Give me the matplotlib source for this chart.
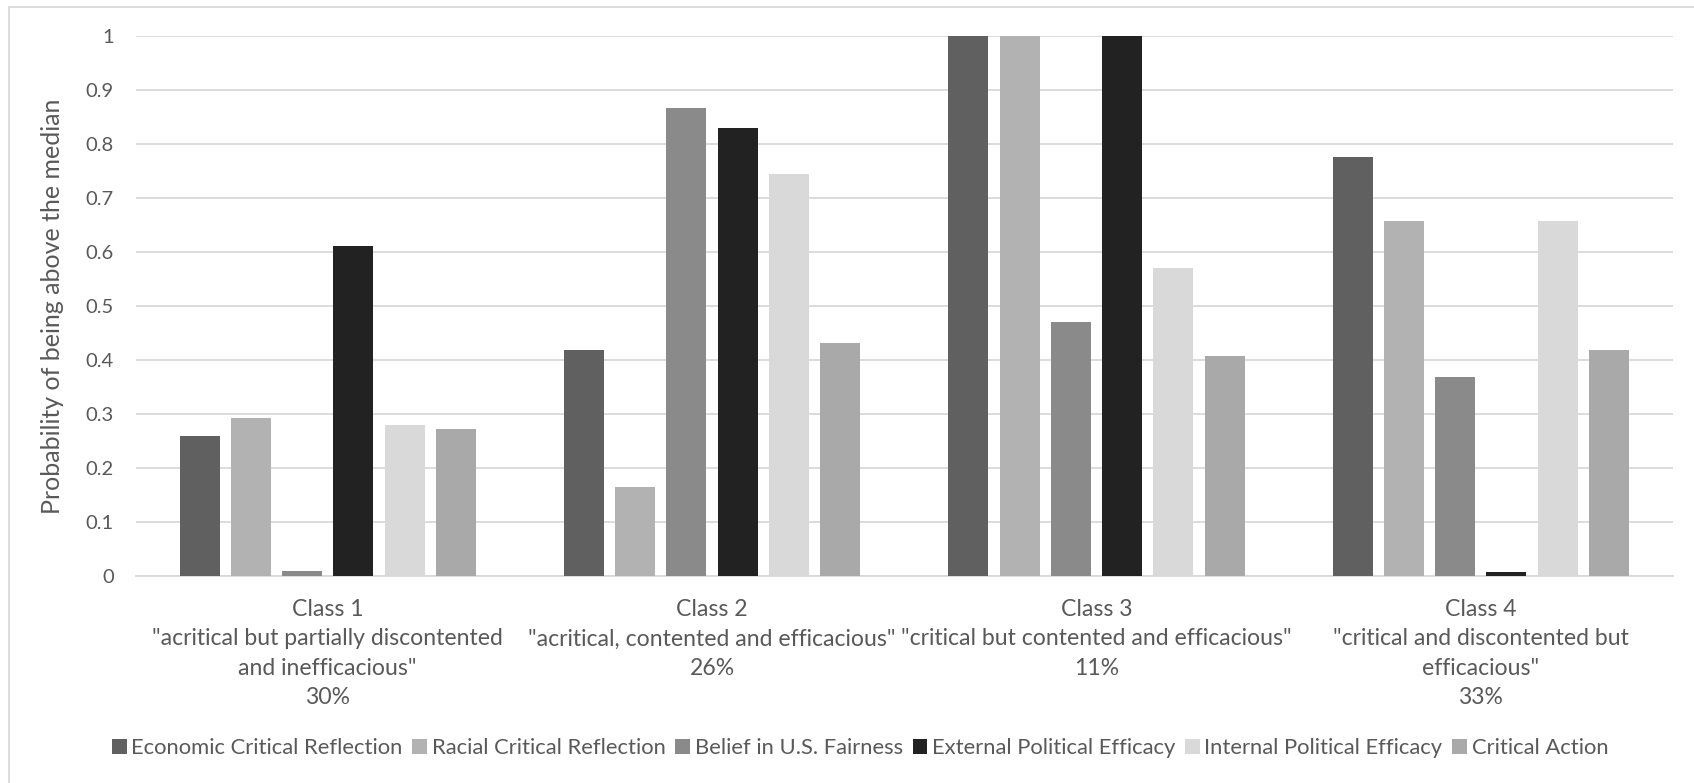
import matplotlib
matplotlib.use("Agg")
import matplotlib.pyplot as plt
from matplotlib.patches import Patch, Rectangle
import numpy as np

# Latent class categories (x axis)
categories = [
    'Class 1\n"acritical but partially discontented\nand inefficacious"\n30%',
    'Class 2\n"acritical, contented and efficacious"\n26%',
    'Class 3\n"critical but contented and efficacious"\n11%',
    'Class 4\n"critical and discontented but\nefficacious"\n33%',
]

series_names = [
    "Economic Critical Reflection",
    "Racial Critical Reflection",
    "Belief in U.S. Fairness",
    "External Political Efficacy",
    "Internal Political Efficacy",
    "Critical Action",
]

# Probability of being above the median, per series, per class
economic_critical_reflection = [0.26, 0.418, 1.0, 0.776]
racial_critical_reflection = [0.292, 0.165, 1.0, 0.657]
belief_us_fairness = [0.009, 0.867, 0.47, 0.368]
external_political_efficacy = [0.612, 0.829, 1.0, 0.008]
internal_political_efficacy = [0.28, 0.745, 0.57, 0.658]
critical_action = [0.273, 0.431, 0.407, 0.418]

series_values = [
    economic_critical_reflection,
    racial_critical_reflection,
    belief_us_fairness,
    external_political_efficacy,
    internal_political_efficacy,
    critical_action,
]

colors = ["#606060", "#b2b2b2", "#8a8a8a", "#222222", "#d9d9d9", "#a9a9a9"]

y_ticks = [0, 0.1, 0.2, 0.3, 0.4, 0.5, 0.6, 0.7, 0.8, 0.9, 1]
y_tick_labels = ["0", "0.1", "0.2", "0.3", "0.4", "0.5", "0.6", "0.7", "0.8", "0.9", "1"]

TEXT = "#595959"
GRID = "#d9d9d9"
FONT = "Lato"
FS_TICK = 14.5
FS_CAT = 16.6
FS_LEG = 15.8
FS_YLAB = 18

plt.rcParams["font.family"] = [FONT, "DejaVu Sans"]

W, H = 1694, 783
fig = plt.figure(figsize=(W / 100, H / 100), dpi=100)

# Chart frame (left and top edges visible)
fig.add_artist(Rectangle((9 / W, -0.1), 1.2, 1 - 7 / H + 0.1,
                         transform=fig.transFigure, fill=False,
                         edgecolor=GRID, linewidth=1.3))

left, right = 135.5 / W, 1673 / W
bottom, top = 1 - 576 / H, 1 - 36 / H
ax = fig.add_axes([left, bottom, right - left, top - bottom])

x = np.arange(len(categories))
step = 0.1333
width = 0.104
n = len(series_values)
for i, (vals, col, name) in enumerate(zip(series_values, colors, series_names)):
    ax.bar(x + (i - (n - 1) / 2) * step, vals, width=width, color=col,
           linewidth=0, label=name, zorder=3)

ax.set_xlim(-0.5, len(categories) - 0.5)
ax.set_ylim(0, 1)
ax.set_yticks(y_ticks)
ax.set_yticklabels(y_tick_labels)
ax.set_xticks(x)
ax.set_xticklabels(categories, linespacing=1.5)

ax.grid(axis="y", color=GRID, linewidth=1.3, zorder=0)
ax.set_axisbelow(True)
for side in ["top", "right", "left"]:
    ax.spines[side].set_visible(False)
ax.spines["bottom"].set_color(GRID)
ax.spines["bottom"].set_linewidth(1.3)

ax.tick_params(axis="y", length=0, pad=15.5, labelsize=FS_TICK, labelcolor=TEXT)
ax.tick_params(axis="x", length=0, pad=16.5, labelsize=FS_CAT, labelcolor=TEXT)

ax.set_ylabel("Probability of being above the median", fontsize=FS_YLAB,
              color=TEXT)
ax.yaxis.set_label_coords(-(135.5 - 64) / (1673 - 135.5), 0.5)

handles = [Patch(facecolor=c, edgecolor="none") for c in colors]
fig.legend(handles, series_names, loc="center", ncol=6,
           bbox_to_anchor=(860 / W, 1 - 748 / H), frameon=False,
           fontsize=FS_LEG, labelcolor=TEXT, handlelength=0.68, handleheight=0.68,
           handletextpad=0.2, columnspacing=0.45)

fig.savefig("out.png", dpi=100, facecolor="white")
